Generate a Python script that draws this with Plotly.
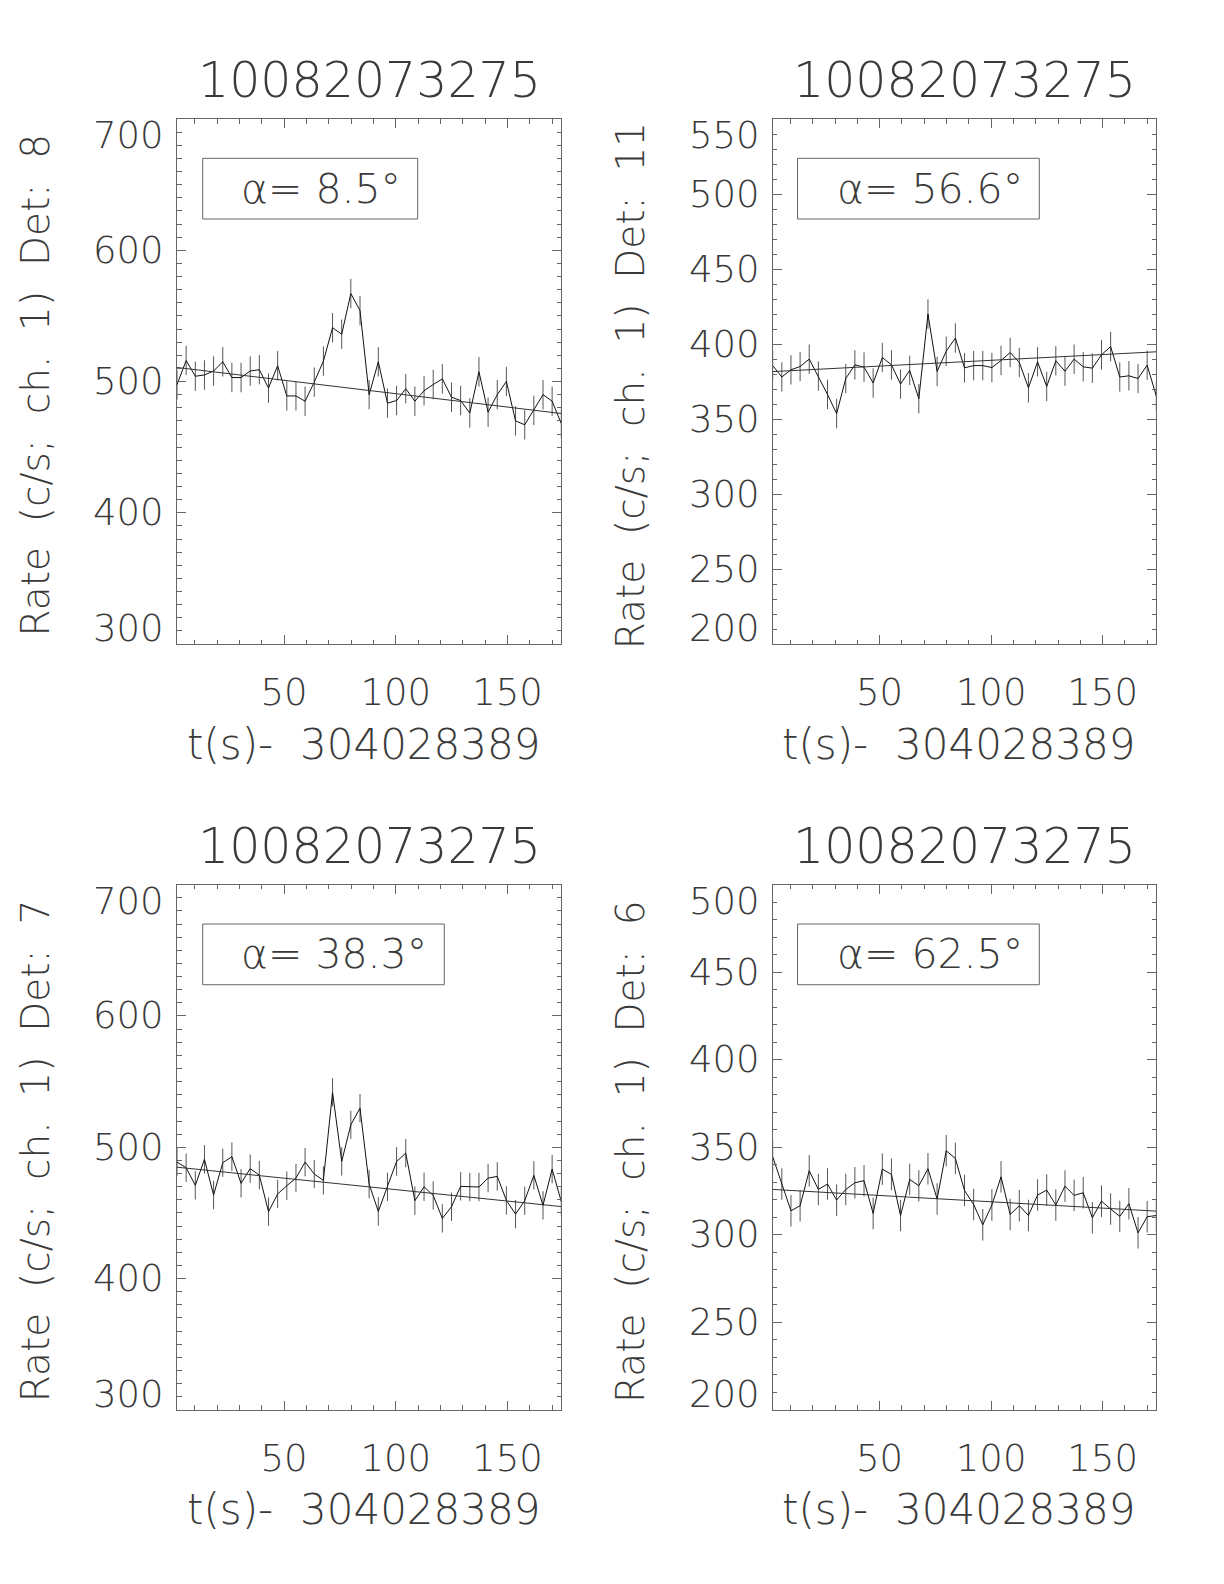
import plotly.graph_objects as go
from plotly.subplots import make_subplots

# ---------------- data ----------------
t = [2.05, 6.14, 10.24, 14.34, 18.43, 22.53, 26.62, 30.72, 34.82, 38.91,
     43.01, 47.10, 51.20, 55.30, 59.39, 63.49, 67.58, 71.68, 75.78, 79.87,
     83.97, 88.06, 92.16, 96.26, 100.35, 104.45, 108.54, 112.64, 116.74, 120.83,
     124.93, 129.02, 133.12, 137.22, 141.31, 145.41, 149.50, 153.60, 157.70, 161.79,
     165.89, 169.98, 174.08]

burst_id = "10082073275"
x_title = "t(s)-\u00a0\u00a0304028389"
dets = [8, 11, 7, 6]
alphas = ["8.5", "56.6", "38.3", "62.5"]

rate_det8 = [497.5, 516, 504, 505, 508, 515, 503, 503, 508, 509,
             495, 512, 489, 489, 485, 499.5, 515.5, 541, 536, 567,
             554, 490, 515, 483.5, 485.5, 494.5, 485, 493, 497.7, 502,
             488, 485.5, 476, 507.4, 476.6, 490, 500, 470, 467, 478,
             490, 485, 468]
rate_det11 = [385.6, 378, 382.8, 385, 389.9, 378.6, 366.4, 353.6, 377, 386.1,
              384.6, 374, 391, 386.1, 373.3, 382.4, 363.5, 420, 381.7, 395.2,
              404, 384.1, 385.6, 385.6, 384.3, 389, 394.3, 387.7, 370.8, 388.1,
              371.7, 388.8, 381.9, 389.9, 384.8, 383.9, 392.8, 398.3, 378, 378.8,
              377, 385.9, 365.3]
rate_det7 = [488.7, 484.4, 471, 490.8, 463.6, 488.2, 492.8, 472.5, 483.7, 478.8,
             450.9, 464.4, 470.7, 476.5, 488.7, 479.6, 474.8, 541.8, 489.2, 517.1,
             529.8, 471.9, 451.1, 469.9, 489.2, 495.5, 459.3, 469.9, 463.3, 445.8,
             454.7, 470.2, 469.7, 469.7, 476.5, 477.8, 459.5, 449.1, 459.3, 478.6,
             455.7, 483.4, 458.5]
rate_det6 = [344.6, 329, 313.7, 316.6, 336.6, 325.9, 329, 319.8, 325.9, 329.7,
             330.9, 312.2, 337.5, 334.5, 311, 331.6, 328, 337.7, 320.4, 348,
             343.6, 325.3, 317.3, 305.7, 317, 333.1, 311.6, 316.6, 311, 322.7,
             325.5, 317, 327.8, 322.5, 324, 309.7, 319.2, 314.7, 310.5, 317.7,
             301.1, 310.3, 311]

# linear background fit, value at first and last bin
fit_det8 = [510.7, 475.6]
fit_det11 = [381.6, 394.8]
fit_det7 = [484.8, 454.8]
fit_det6 = [325.9, 313.5]

# 1-sigma error (c/s)
err_det8 = 11.2
err_det11 = 9.8
err_det7 = 10.8
err_det6 = 9.0

yrange_det8 = [300, 700]
yrange_det11 = [200, 550]
yrange_det7 = [300, 700]
yrange_det6 = [200, 500]

yticks_det8 = [300, 400, 500, 600, 700]
yticks_det11 = [200, 250, 300, 350, 400, 450, 500, 550]
yticks_det7 = [300, 400, 500, 600, 700]
yticks_det6 = [200, 250, 300, 350, 400, 450, 500]

xticks = [50, 100, 150]

rates = [rate_det8, rate_det11, rate_det7, rate_det6]
fits = [fit_det8, fit_det11, fit_det7, fit_det6]
errs = [err_det8, err_det11, err_det7, err_det6]
yranges = [yrange_det8, yrange_det11, yrange_det7, yrange_det6]
yticks = [yticks_det8, yticks_det11, yticks_det7, yticks_det6]

# ---------------- layout / style ----------------
W, H = 1224, 1584
OFF = 8  # default page margin of the html body
FONT = "DejaVu Sans"
TXT = "#3a3a3a"
AX = "#666666"
boxes = [(177, 561.3, 119, 644), (772.7, 1156.3, 119, 644),
         (177, 561.3, 884.7, 1409.8), (772.7, 1156.3, 884.7, 1409.8)]
alpha_box_x = [(0.0669, 0.6263), (0.0647, 0.6950), (0.0669, 0.6955), (0.0647, 0.6950)]
alpha_box_y = (0.8095, 0.9251)

fig = make_subplots(rows=2, cols=2)

annotations = []
shapes = []
for k in range(4):
    r, c = k // 2 + 1, k % 2 + 1
    sfx = "" if k == 0 else str(k + 1)
    x0, x1, y0, y1 = [v - OFF for v in boxes[k]]

    fig.add_trace(go.Scatter(
        x=t, y=rates[k], mode="lines",
        line=dict(color="#111111", width=1),
        error_y=dict(type="constant", value=errs[k], width=0, thickness=1, color="#555555"),
        showlegend=False, hoverinfo="skip"), row=r, col=c)
    fig.add_trace(go.Scatter(
        x=[t[0], t[-1]], y=fits[k], mode="lines",
        line=dict(color="#333333", width=1),
        showlegend=False, hoverinfo="skip"), row=r, col=c)

    xa = dict(domain=[x0 / W, x1 / W], range=[t[0], t[-1]],
              showline=True, linecolor=AX, linewidth=1, mirror="allticks",
              ticks="inside", ticklen=9, tickcolor=AX, tickwidth=1,
              tickvals=xticks, ticktext=[str(v) for v in xticks],
              tickfont=dict(family=FONT, size=37, color=TXT, weight=200),
              ticklabelstandoff=16,
              minor=dict(dtick=10, tick0=0, ticks="inside", ticklen=4.5, tickcolor=AX),
              showgrid=False, zeroline=False)
    ya = dict(domain=[1 - y1 / H, 1 - y0 / H], range=yranges[k],
              showline=True, linecolor=AX, linewidth=1, mirror="allticks",
              ticks="inside", ticklen=9, tickcolor=AX, tickwidth=1,
              tickvals=yticks[k], showticklabels=False,
              minor=dict(dtick=10, tick0=0, ticks="inside", ticklen=4.5, tickcolor=AX),
              showgrid=False, zeroline=False)
    fig.layout["xaxis" + sfx].update(xa)
    fig.layout["yaxis" + sfx].update(ya)

    xd = "x" + sfx + " domain"
    yd = "y" + sfx + " domain"
    yv = "y" + sfx

    # title
    annotations.append(dict(xref="paper", yref="paper", x=(x0 + x1) / 2 / W,
                            y=1 - (y0 - 38) / H, xanchor="center", yanchor="middle",
                            text=burst_id, showarrow=False,
                            font=dict(family=FONT, size=49, color=TXT, weight=200)))
    # y tick labels
    lo, hi = yranges[k]
    for v in yticks[k]:
        if v == hi:
            ya_, ys = "top", 7
        elif v == lo:
            ya_, ys = "bottom", -8
        else:
            ya_, ys = "middle", 0
        annotations.append(dict(xref=xd, yref=yv, x=0, y=v, xanchor="right",
                                yanchor=ya_, xshift=-11, yshift=ys, text=str(v),
                                showarrow=False,
                                font=dict(family=FONT, size=37, color=TXT, weight=200)))
    # y title
    ytxt = "\u00a0\u00a0".join(["Rate", "(c/s;", "ch.", "1)", "Det:", str(dets[k])])
    annotations.append(dict(xref=xd, yref=yd, x=0, y=0.5, xanchor="center",
                            yanchor="middle", xshift=-142, yshift=-4, textangle=-90,
                            text=ytxt, showarrow=False,
                            font=dict(family=FONT, size=39, color=TXT, weight=200)))
    # x title
    annotations.append(dict(xref=xd, yref=yd, x=0.5, y=0, xanchor="center",
                            yanchor="middle", yshift=-100, xshift=-6,
                            text=x_title, showarrow=False,
                            font=dict(family=FONT, size=42, color=TXT, weight=200)))
    # alpha label and box
    bx0, bx1 = alpha_box_x[k]
    shapes.append(dict(type="rect", xref=xd, yref=yd, x0=bx0, x1=bx1,
                       y0=alpha_box_y[0], y1=alpha_box_y[1],
                       line=dict(color=AX, width=1), fillcolor="rgba(0,0,0,0)"))
    annotations.append(dict(xref=xd, yref=yd, x=0.162, y=(alpha_box_y[0] + alpha_box_y[1]) / 2,
                            xanchor="left", yanchor="middle",
                            text=f"α= {alphas[k]}°", showarrow=False,
                            font=dict(family=FONT, size=41, color=TXT, weight=200)))

fig.update_layout(width=W, height=H, margin=dict(l=0, r=0, t=0, b=0),
                  paper_bgcolor="white", plot_bgcolor="white",
                  annotations=annotations, shapes=shapes, showlegend=False)

fig.write_html("out.html")
